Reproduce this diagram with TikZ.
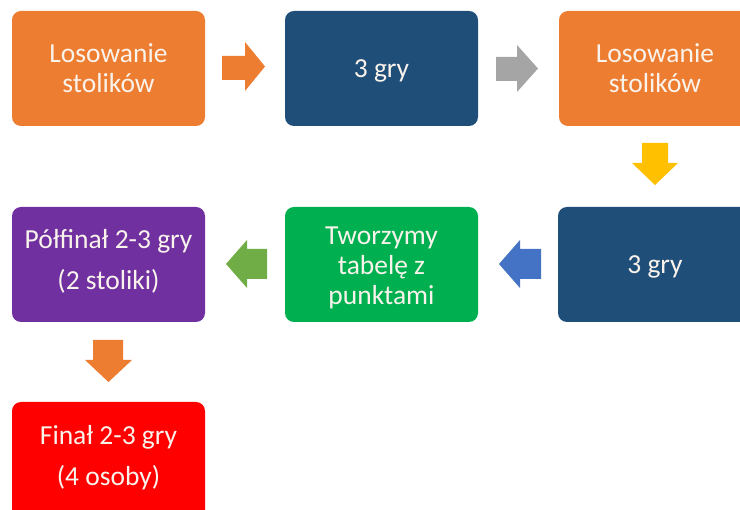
\documentclass[tikz,border=0pt]{standalone}
\usepackage{fontspec}
\setmainfont{Carlito}
\definecolor{corange}{HTML}{ED7D31}
\definecolor{cnavy}{HTML}{1F4E79}
\definecolor{cgray}{HTML}{A5A5A5}
\definecolor{cyellow}{HTML}{FFC000}
\definecolor{cblue}{HTML}{4472C4}
\definecolor{cgreen}{HTML}{00B050}
\definecolor{cgarrow}{HTML}{70AD47}
\definecolor{cpurple}{HTML}{7030A0}
\definecolor{cred}{HTML}{FF0000}
\definecolor{ctext}{HTML}{FAF3EC}
\begin{document}
\begin{tikzpicture}[x=1pt,y=-1pt,
  boxst/.style={rounded corners=9pt},
  lbl/.style={text=ctext,align=center,inner sep=0pt,font=\fontsize{27.5}{30}\selectfont},
  lblwide/.style={lbl,font=\fontsize{27.5}{41}\selectfont}]
\useasboundingbox (0,0) rectangle (740,510);
\begin{scope}
\clip (0,0) rectangle (740,510);
% boxes
\fill[corange,boxst] (12,11) rectangle (205,126);
\fill[cnavy,boxst] (285,11) rectangle (478,126);
\fill[corange,boxst] (559,11) rectangle (760,126);
\fill[cnavy,boxst] (558,207) rectangle (760,322);
\fill[cgreen,boxst] (285,207) rectangle (478,322);
\fill[cpurple,boxst] (12,207) rectangle (205,322);
\fill[cred,boxst] (12,402) rectangle (205,540);
% arrows
\fill[corange] (222,56) -- (245,56) -- (245,42) -- (265,66.5) -- (245,91) -- (245,80) -- (222,80) -- cycle;
\fill[cgray] (496,57) -- (517,57) -- (517,45) -- (538,68.5) -- (517,92) -- (517,81) -- (496,81) -- cycle;
\fill[cyellow] (642,143) -- (668,143) -- (668,163) -- (678,163) -- (655,185) -- (632,163) -- (642,163) -- cycle;
\fill[cblue] (541,249) -- (520,249) -- (520,240) -- (499,264) -- (520,288) -- (520,279) -- (541,279) -- cycle;
\fill[cgarrow] (267,249) -- (247,249) -- (247,240) -- (226,264) -- (247,288) -- (247,279) -- (267,279) -- cycle;
\fill[corange] (93,340) -- (123,340) -- (123,360) -- (132,360) -- (108.5,382) -- (85,360) -- (93,360) -- cycle;
\end{scope}
% labels
\node[lbl] (n1) at (108.5,68.5) {Losowanie\\stolików};
\node[lbl] (n2) at (381.5,70.5) {3 gry};
\node[lbl] (n3) at (655,68.5) {Losowanie\\stolików};
\node[lbl] (n4) at (655,267) {3 gry};
\node[lbl] (n5) at (381.5,267.5) {Tworzymy\\tabelę z\\punktami};
\node[lblwide] (n6) at (108.5,261) {Półfinał 2-3 gry\\(2 stoliki)};
\node[lblwide] (n7) at (108.5,458) {Finał 2-3 gry\\(4 osoby)};
\end{tikzpicture}
\end{document}
